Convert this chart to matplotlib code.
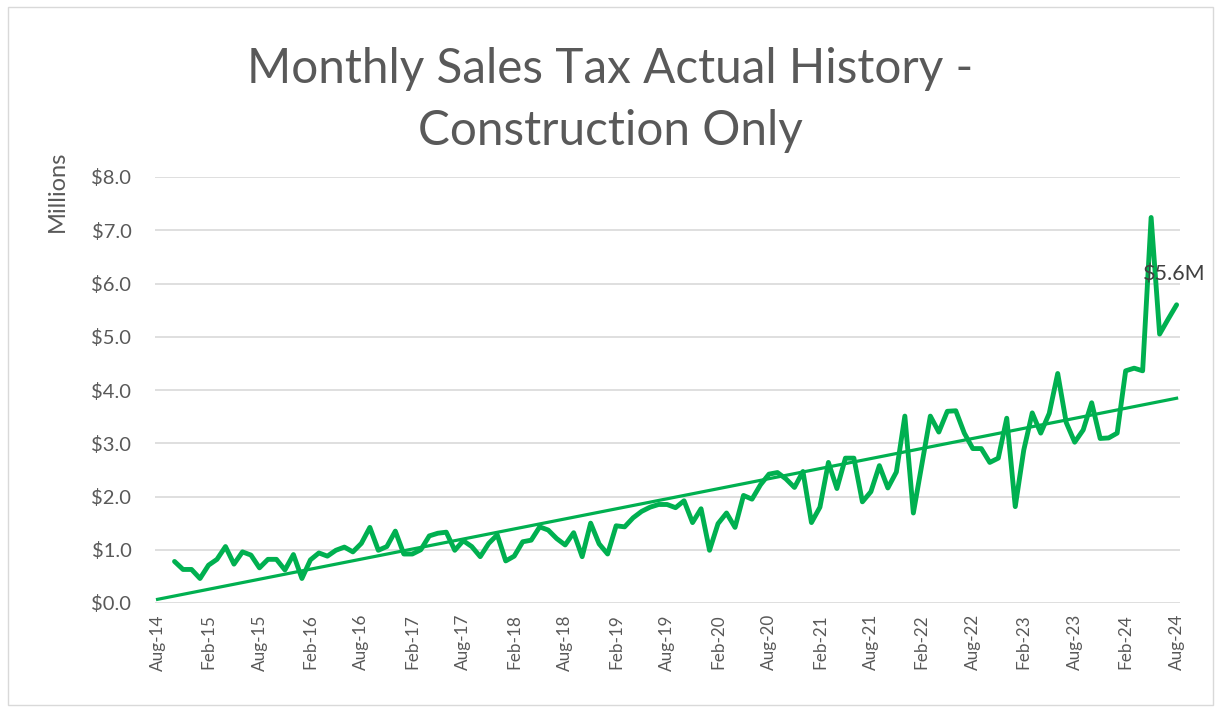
import matplotlib
matplotlib.use("Agg")
import matplotlib.pyplot as plt
import numpy as np
from matplotlib.patches import Rectangle

plt.rcParams['font.family'] = ['Lato', 'DejaVu Sans']

# month index 0 = Aug-14 ... 120 = Aug-24; data begins Oct-14
start_month = 2
sales = [0.78, 0.63, 0.63, 0.46, 0.71, 0.82, 1.06, 0.73, 0.96, 0.90,
         0.66, 0.82, 0.82, 0.62, 0.91, 0.46, 0.81, 0.94, 0.88, 0.99,
         1.05, 0.96, 1.12, 1.42, 0.99, 1.06, 1.35, 0.92, 0.92, 1.00,
         1.26, 1.31, 1.33, 0.99, 1.17, 1.06, 0.87, 1.12, 1.28, 0.79,
         0.88, 1.15, 1.18, 1.43, 1.37, 1.21, 1.09, 1.32, 0.87, 1.50,
         1.11, 0.92, 1.45, 1.43, 1.60, 1.72, 1.80, 1.85, 1.85, 1.79,
         1.92, 1.51, 1.77, 0.99, 1.49, 1.69, 1.42, 2.02, 1.95, 2.22,
         2.42, 2.45, 2.33, 2.17, 2.47, 1.51, 1.80, 2.64, 2.15, 2.72,
         2.72, 1.90, 2.09, 2.58, 2.16, 2.46, 3.51, 1.69, 2.60, 3.51,
         3.21, 3.60, 3.61, 3.19, 2.90, 2.90, 2.64, 2.72, 3.47, 1.81,
         2.87, 3.57, 3.19, 3.56, 4.31, 3.39, 3.02, 3.25, 3.76, 3.09,
         3.10, 3.19, 4.36, 4.41, 4.36, 7.24, 5.05, 5.33, 5.60]

tick_labels = ["Aug-14", "Feb-15", "Aug-15", "Feb-16", "Aug-16", "Feb-17",
               "Aug-17", "Feb-18", "Aug-18", "Feb-19", "Aug-19", "Feb-20",
               "Aug-20", "Feb-21", "Aug-21", "Feb-22", "Aug-22", "Feb-23",
               "Aug-23", "Feb-24", "Aug-24"]
y_ticks = [0, 1, 2, 3, 4, 5, 6, 7, 8]

months = np.arange(start_month, start_month + len(sales))
vals = np.array(sales)

green = '#00B050'
grey = '#595959'

fig = plt.figure(figsize=(12.21, 7.09), dpi=100)
ax = fig.add_axes([155 / 1221, 1 - 603 / 709, (1180 - 155) / 1221, (603 - 177) / 709])

fig.patches.append(Rectangle((8 / 1221, 4 / 709), 1205 / 1221, 698 / 709,
                             transform=fig.transFigure, fill=False,
                             edgecolor='#D9D9D9', linewidth=1))

ax.plot(months, vals, color=green, linewidth=3.5, solid_joinstyle='round',
        solid_capstyle='round', zorder=3)

# linear trend over the whole axis
coef = np.polyfit(months, vals, 1)
trend_x = np.arange(0, len(tick_labels) * 6 - 5)
ax.plot(trend_x, np.polyval(coef, trend_x), color=green, linewidth=2.3, zorder=2)

ax.annotate("$%.1fM" % vals[-1], xy=(months[-1], vals[-1]), xytext=(-24, 22),
            textcoords='offset points', ha='left', va='center',
            fontsize=15.5, color='#404040')

ax.set_xlim(-0.3, 120.4)
ax.set_ylim(0, 8)
ax.set_xticks(np.arange(0, len(tick_labels) * 6, 6))
ax.set_xticklabels(tick_labels, rotation=90, fontsize=12.3, color=grey)
ax.set_yticks(y_ticks)
ax.set_yticklabels(["$%.1f" % v for v in y_ticks], fontsize=14.5, color=grey)
ax.tick_params(axis='both', length=0)
ax.tick_params(axis='y', pad=17)
ax.tick_params(axis='x', pad=8)
ax.grid(axis='y', color='#D9D9D9', linewidth=1.2)
ax.set_axisbelow(True)
for s in ax.spines.values():
    s.set_visible(False)

fig.text(57 / 1221, 1 - 191 / 709, "Millions", rotation=90, ha='center',
         va='center', fontsize=17, color=grey)
fig.text(610 / 1221, 1 - 100 / 709, "Monthly Sales Tax Actual History -\nConstruction Only",
         ha='center', va='center', fontsize=34.3, color=grey,
         linespacing=1.5)

fig.savefig("out.png", dpi=100)
